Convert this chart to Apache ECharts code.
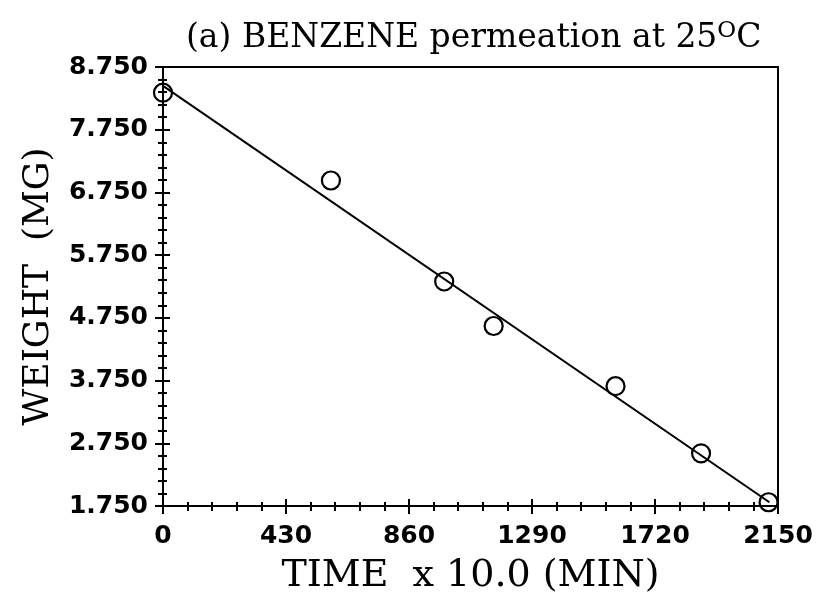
<!DOCTYPE html>
<html>
<head>
<meta charset="utf-8">
<script src="https://cdn.jsdelivr.net/npm/echarts@6/dist/echarts.min.js"></script>
<style>html,body{margin:0;padding:0;background:#fff}#c{width:819px;height:600px}</style>
</head>
<body>
<div id="c"></div>
<script>
// ---- data ----
const xTickValues = [0, 430, 860, 1290, 1720, 2150];
const yTickValues = [1.75, 2.75, 3.75, 4.75, 5.75, 6.75, 7.75, 8.75];
const timeX = [0, 587, 983, 1156, 1582, 1881, 2117];
const weightY = [8.34, 6.94, 5.33, 4.62, 3.66, 2.59, 1.81];
const fitX = [0, 2120];
const fitY = [8.45, 1.81];
const titleText = '(a) BENZENE permeation at 25{sup|O}C';
const xName = 'TIME  x 10.0 (MIN)';
const yName = 'WEIGHT  (MG)';

// minor tick positions (5 divisions between major ticks)
const xMinor = [];
for (let i = 0; i < xTickValues.length - 1; i++) {
  const a = xTickValues[i], b = xTickValues[i + 1];
  for (let k = 1; k < 5; k++) xMinor.push(a + (b - a) * k / 5);
}
const yMinor = [];
for (let i = 0; i < yTickValues.length - 1; i++) {
  const a = yTickValues[i], b = yTickValues[i + 1];
  for (let k = 1; k < 5; k++) yMinor.push(+(a + (b - a) * k / 5).toFixed(4));
}

const black = '#000';
const serif = 'DejaVu Serif';
const sans = 'DejaVu Sans';

function tickAxis(base, values, len, inside) {
  return Object.assign({
    type: 'value',
    axisLine: { show: false },
    axisTick: { show: true, inside: inside, length: len, customValues: values, lineStyle: { color: black, width: 2 } },
    axisLabel: { show: false },
    splitLine: { show: false }
  }, base);
}

const xBase = { min: xTickValues[0], max: xTickValues[xTickValues.length - 1], position: 'bottom' };
const yBase = { min: yTickValues[0], max: yTickValues[yTickValues.length - 1], position: 'left' };

const option = {
  animation: false,
  backgroundColor: '#fff',
  title: {
    text: titleText,
    left: 181,
    top: 15,
    textStyle: {
      fontFamily: serif, fontSize: 33, fontWeight: 'normal', color: black,
      rich: { sup: { fontFamily: serif, fontSize: 23, color: black, padding: [0, 0, 14, 0] } }
    }
  },
  grid: { left: 163, right: 41, top: 67, bottom: 93, show: true, borderColor: black, borderWidth: 2 },
  xAxis: [
    Object.assign({
      type: 'value',
      axisLine: { show: true, lineStyle: { color: black, width: 2 } },
      axisTick: { show: true, length: 8, customValues: xTickValues, lineStyle: { color: black, width: 2 } },
      axisLabel: { customValues: xTickValues, fontFamily: sans, fontWeight: 'bold', fontSize: 25, color: black, margin: 18,
        formatter: v => String(v) },
      splitLine: { show: false },
      name: xName, nameLocation: 'middle', nameGap: 51,
      nameTextStyle: { fontFamily: serif, fontSize: 38, color: black }
    }, xBase),
    tickAxis(xBase, xTickValues, 7, true),
    tickAxis(xBase, xMinor, 5, false),
    tickAxis(xBase, xMinor, 4, true)
  ],
  yAxis: [
    Object.assign({
      type: 'value',
      axisLine: { show: true, lineStyle: { color: black, width: 2 } },
      axisTick: { show: true, length: 8, customValues: yTickValues, lineStyle: { color: black, width: 2 } },
      axisLabel: { customValues: yTickValues, fontFamily: sans, fontWeight: 'bold', fontSize: 25, color: black, margin: 15,
        formatter: v => v.toFixed(3) },
      splitLine: { show: false },
      name: yName, nameLocation: 'middle', nameGap: 106,
      nameTextStyle: { fontFamily: serif, fontSize: 36, color: black }
    }, yBase),
    tickAxis(yBase, yTickValues, 7, true),
    tickAxis(yBase, yMinor, 5, false),
    tickAxis(yBase, yMinor, 4, true)
  ],
  series: [
    {
      type: 'line',
      data: fitX.map((x, i) => [x, fitY[i]]),
      showSymbol: false, symbol: 'none',
      lineStyle: { color: black, width: 2 },
      clip: false, z: 2
    },
    {
      type: 'scatter',
      data: timeX.map((x, i) => [x, weightY[i]]),
      symbol: 'circle', symbolSize: 18,
      itemStyle: { color: 'rgba(0,0,0,0)', borderColor: black, borderWidth: 2.2, opacity: 1 },
      clip: false, z: 3
    }
  ]
};

const chart = echarts.init(document.getElementById('c'), null, { renderer: 'canvas' });
chart.setOption(option);
</script>
</body>
</html>
